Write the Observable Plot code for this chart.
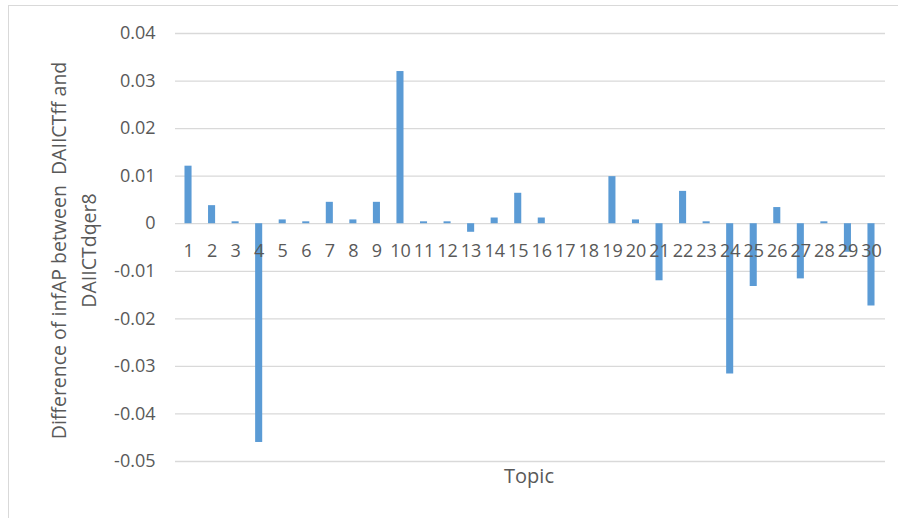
<!DOCTYPE html>
<html>
<head>
<meta charset="utf-8">
<script src="https://cdn.jsdelivr.net/npm/d3@7"></script>
<script src="https://cdn.jsdelivr.net/npm/@observablehq/plot@0.6"></script>
<style>
  html, body { margin: 0; padding: 0; background: #fff; overflow: hidden; }
  #frame { position: absolute; left: 8px; top: 5px; width: 1000px; height: 1000px; border: 1.5px solid #d9d9d9; box-sizing: border-box; }
  #chart { position: absolute; left: 0; top: 0; }
</style>
</head>
<body>
<div id="frame"></div>
<div id="chart"></div>
<script>
const topics = d3.range(1, 31).map(String);
const diffs = [
  0.0121, 0.0038, 0.0004, -0.0460, 0.0008, 0.0004, 0.0045, 0.0008, 0.0045, 0.0320,
  0.0004, 0.0004, -0.0018, 0.0012, 0.0064, 0.0012, 0.0000, 0.0000, 0.0099, 0.0008,
  -0.0120, 0.0068, 0.0004, -0.0316, -0.0132, 0.0034, -0.0116, 0.0004, -0.0060, -0.0173
];
const yTicks = [0.04, 0.03, 0.02, 0.01, 0, -0.01, -0.02, -0.03, -0.04, -0.05];
const yTitle = "Difference of infAP between  DAIICTff and\nDAIICTdqer8";
const xTitle = "Topic";

const data = topics.map((t, i) => ({topic: t, value: diffs[i]}));

const chart = Plot.plot({
  width: 898,
  height: 518,
  marginLeft: 168,
  marginRight: 7,
  marginTop: 33,
  marginBottom: 57,
  style: {fontFamily: "'Open Sans', sans-serif", fontSize: "18px", color: "#595959", background: "transparent"},
  x: {type: "band", domain: topics, padding: 0.7, round: false, axis: null},
  y: {domain: [-0.05, 0.04], axis: null},
  marks: [
    Plot.ruleY(yTicks, {insetLeft: 7, insetRight: 6, stroke: "#d9d9d9", strokeWidth: 1.3}),
    Plot.barY(data, {x: "topic", y: "value", fill: "#5b9bd5"}),
    Plot.axisY(yTicks, {tickSize: 0, tickPadding: 13, tickFormat: d => String(+d.toFixed(2)), fill: "#595959", fontSize: 18, label: null}),
    Plot.text(topics, {x: d => d, y: () => 0, dy: 28, text: d => d, fill: "#595959", fontSize: 18}),
    Plot.text([yTitle], {frameAnchor: "left", textAnchor: "middle", dx: -97, dy: 3, rotate: -90, lineHeight: 1.55, fill: "#595959", fontSize: 19.5}),
    Plot.text([xTitle], {frameAnchor: "bottom", dx: -1, dy: 21, fill: "#595959", fontSize: 20})
  ]
});
document.getElementById("chart").appendChild(chart);
</script>
</body>
</html>
